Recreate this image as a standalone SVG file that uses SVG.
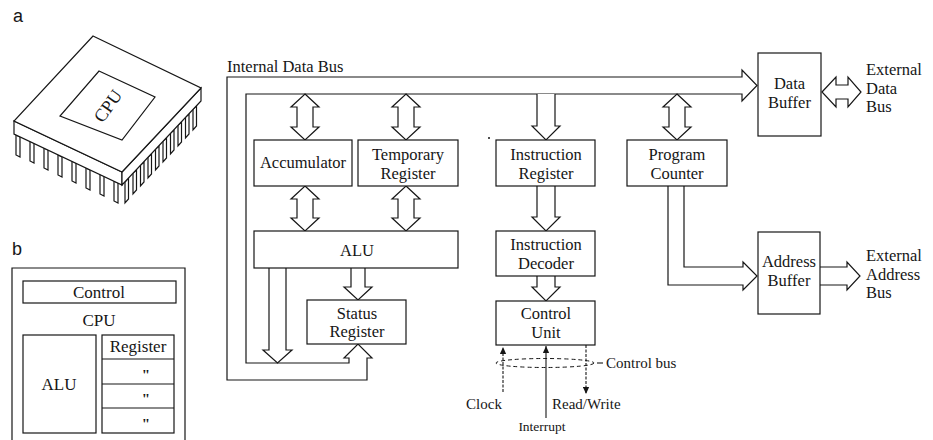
<svg xmlns="http://www.w3.org/2000/svg" width="933" height="440" viewBox="0 0 933 440">
  <defs>
    <style>
      .ln { fill: none; stroke: #161616; stroke-width: 1.2; stroke-linejoin: miter; }
      .ar { fill: #fff; stroke: #161616; stroke-width: 1.2; stroke-linejoin: miter; }
      .box { fill: #fff; stroke: #161616; stroke-width: 1.2; }
      .t { font-family: "Liberation Serif", "Times New Roman", serif; font-size: 16.5px; fill: #161616; text-anchor: middle; }
      .ts { font-family: "Liberation Serif", "Times New Roman", serif; font-size: 16.5px; fill: #161616; text-anchor: start; }
      .sm { font-size: 15px; }
      .lab { font-family: "Liberation Sans", Arial, sans-serif; font-size: 18px; fill: #161616; }
      .dash { fill: none; stroke: #161616; stroke-width: 1; stroke-dasharray: 4 3; }
      .sig { fill: none; stroke: #161616; stroke-width: 1.1; }
      .dot { stroke-dasharray: 3 1.5; }
      .ditto { font-family: "Liberation Serif", "Times New Roman", serif; font-size: 15px; font-weight: bold; fill: #161616; text-anchor: middle; }
    </style>
    <marker id="tip" viewBox="0 0 10 10" refX="10" refY="5" markerWidth="8" markerHeight="7" markerUnits="userSpaceOnUse" orient="auto">
      <path d="M0,0.5 L10,5 L0,9.5 z" fill="#161616"/>
    </marker>
  </defs>

  <rect width="933" height="440" fill="#fff"/>

  <!-- panel letters -->
  <text class="lab" x="13" y="22">a</text>
  <text class="lab" x="12" y="255">b</text>

  <!-- packaged chip -->
  <g id="chip">
    <!-- pins, left front face -->
    <g class="ar">
      <path d="M16,135 V155 L20,157 V137 Z"/>
      <path d="M30,141 V161 L34,163 V143 Z"/>
      <path d="M44,148 V168 L48,170 V150 Z"/>
      <path d="M58,155 V175 L62,177 V157 Z"/>
      <path d="M72,161 V181 L76,183 V163 Z"/>
      <path d="M86,168 V188 L90,190 V170 Z"/>
      <path d="M100,174 V194 L104,196 V176 Z"/>
      <path d="M114,181 V201 L118,203 V183 Z"/>
      <!-- pins, right front face -->
      <path d="M125,182 V203 L128.5,199 V178 Z"/>
      <path d="M133,173 V194 L136.5,190 V170 Z"/>
      <path d="M140.5,165 V186 L144,182 V162 Z"/>
      <path d="M148,157 V178 L151.5,174 V154 Z"/>
      <path d="M155.5,149 V170 L159,166 V146 Z"/>
      <path d="M163,141 V162 L166.5,158 V138 Z"/>
      <path d="M170.5,133 V154 L174,150 V130 Z"/>
      <path d="M178,125 V146 L181.5,142 V122 Z"/>
      <path d="M185.5,117 V138 L189,134 V114 Z"/>
      <path d="M193,109 V130 L196.5,126 V106 Z"/>
    </g>
    <!-- body -->
    <path class="box" d="M14,121 V134 L122,185 V172 Z"/>
    <path class="box" d="M122,172 V185 L201,101 V88 Z"/>
    <path class="box" d="M93,36 L201,88 L122,172 L14,121 Z"/>
    <path class="box" d="M99,71 L155,97 L122,140 L60,116 Z"/>
    <text class="t" x="108" y="112" style="font-size:18px" transform="rotate(-55 108 106)">CPU</text>
  </g>

  <!-- block sketch of the CPU -->
  <g id="cpu-block">
    <path class="ln" d="M12,441 V268 H185 V441"/>
    <rect class="box" x="23" y="281" width="153" height="22"/>
    <text class="t" x="99" y="298" style="font-size:17px">Control</text>
    <text class="t" x="99" y="326" style="font-size:17px">CPU</text>
    <rect class="box" x="23" y="335" width="73" height="98"/>
    <text class="t" x="59" y="390" style="font-size:17px">ALU</text>
    <rect class="box" x="102" y="335" width="72" height="98"/>
    <path class="ln" d="M102,359 H174 M102,384 H174 M102,408 H174"/>
    <text class="t" x="138" y="352" style="font-size:17px">Register</text>
    <text class="ditto" x="146" y="380">"</text>
    <text class="ditto" x="146" y="404">"</text>
    <text class="ditto" x="146" y="429">"</text>
  </g>

  <!-- buses and data paths -->
  <g id="connectors">
    <!-- internal data bus loop with data-buffer and status-register heads -->
    <path class="ln" d="M742,94 H246 V363 H349 V358 H344 L358,344 L372,358 H367 V380 H227 V77 H742 V70 L757,85.5 L742,101 Z"/>
    <!-- bidirectional links to the bus -->
    <path class="ar" d="M305,94 L319,107 H313 V127 H319 L305,140 L291,127 H297 V107 H291 Z"/>
    <path class="ar" d="M406,94 L420,107 H414 V127 H420 L406,140 L392,127 H398 V107 H392 Z"/>
    <path class="ar" d="M677,94 L691,107 H685 V127 H691 L677,140 L663,127 H669 V107 H663 Z"/>
    <path class="ar" d="M305,186 L319,199 H313 V218 H319 L305,231 L291,218 H297 V199 H291 Z"/>
    <path class="ar" d="M406,186 L420,199 H414 V218 H420 L406,231 L392,218 H398 V199 H392 Z"/>
    <!-- one-way paths -->
    <path class="ar" d="M537,94 V126 H532 L546,140 L560,126 H555 V94"/>
    <path class="ar" d="M537,186 V217 H532 L546,231 L560,217 H555 V186"/>
    <path class="ar" d="M537,276 V287 H532 L546,301 L560,287 H555 V276"/>
    <path class="ar" d="M351,268 V287 H344 L358,300 L372,287 H365 V268"/>
    <path class="ar" d="M269,268 V350 H263 L277.5,363 L292,350 H286 V268"/>
    <!-- program counter to address buffer -->
    <path class="ar" d="M668,186 V285 H743 V290 L757,276 L743,262 V267 H684 V186"/>
    <!-- external buses -->
    <path class="ar" d="M820,267 H847 V262 L860,276 L847,290 V285 H820"/>
    <path class="ar" d="M822,92 L836,77 V85 H848 V77 L861,92 L848,107 V99 H836 V107 Z"/>
    <!-- control bus signals -->
    <ellipse class="dash" cx="545" cy="363" rx="49" ry="4.5"/>
    <line class="sig dot" x1="503" y1="392" x2="503" y2="347" marker-end="url(#tip)"/>
    <line class="sig" x1="546" y1="418" x2="546" y2="346" marker-end="url(#tip)"/>
    <line class="sig dot" x1="586" y1="345" x2="586" y2="394" marker-end="url(#tip)"/>
    <line class="sig" x1="597" y1="363" x2="603" y2="363"/>
    <circle cx="489" cy="138" r="1" fill="#161616"/>
  </g>

  <text class="ts" x="227" y="72">Internal Data Bus</text>

  <g id="accumulator">
    <rect class="box" x="254" y="140" width="98" height="46"/>
    <text class="t" x="303" y="168">Accumulator</text>
  </g>
  <g id="temporary-register">
    <rect class="box" x="358" y="140" width="100" height="46"/>
    <text class="t" x="408" y="160">Temporary</text>
    <text class="t" x="408" y="178.5">Register</text>
  </g>
  <g id="alu">
    <rect class="box" x="254" y="231" width="204" height="37"/>
    <text class="t" x="357" y="256">ALU</text>
  </g>
  <g id="status-register">
    <rect class="box" x="307" y="300" width="99" height="44"/>
    <text class="t" x="357" y="318.5">Status</text>
    <text class="t" x="357" y="337">Register</text>
  </g>
  <g id="instruction-register">
    <rect class="box" x="496" y="140" width="99" height="46"/>
    <text class="t" x="546" y="160">Instruction</text>
    <text class="t" x="546" y="178.5">Register</text>
  </g>
  <g id="instruction-decoder">
    <rect class="box" x="496" y="231" width="99" height="45"/>
    <text class="t" x="546" y="250">Instruction</text>
    <text class="t" x="546" y="268.5">Decoder</text>
  </g>
  <g id="control-unit">
    <rect class="box" x="496" y="301" width="99" height="44"/>
    <text class="t" x="546" y="319">Control</text>
    <text class="t" x="546" y="337.5">Unit</text>
  </g>
  <g id="program-counter">
    <rect class="box" x="627" y="140" width="100" height="46"/>
    <text class="t" x="677" y="160">Program</text>
    <text class="t" x="677" y="178.5">Counter</text>
  </g>
  <g id="data-buffer">
    <rect class="box" x="758" y="53" width="63" height="83"/>
    <text class="t" x="789.5" y="89">Data</text>
    <text class="t" x="789.5" y="107.5">Buffer</text>
  </g>
  <g id="address-buffer">
    <rect class="box" x="758" y="232" width="62" height="82"/>
    <text class="t" x="789" y="267">Address</text>
    <text class="t" x="789" y="285.5">Buffer</text>
  </g>

  <!-- external labels -->
  <text class="ts" x="866" y="75">External</text>
  <text class="ts" x="866" y="93.5">Data</text>
  <text class="ts" x="866" y="112">Bus</text>
  <text class="ts" x="866" y="261">External</text>
  <text class="ts" x="866" y="279.5">Address</text>
  <text class="ts" x="866" y="298">Bus</text>

  <!-- control bus labels -->
  <text class="ts sm" x="606" y="368">Control bus</text>
  <text class="t sm" x="484" y="409">Clock</text>
  <text class="ts sm" x="552" y="409">Read/Write</text>
  <text class="t" x="542" y="431" style="font-size:13.5px">Interrupt</text>
</svg>
